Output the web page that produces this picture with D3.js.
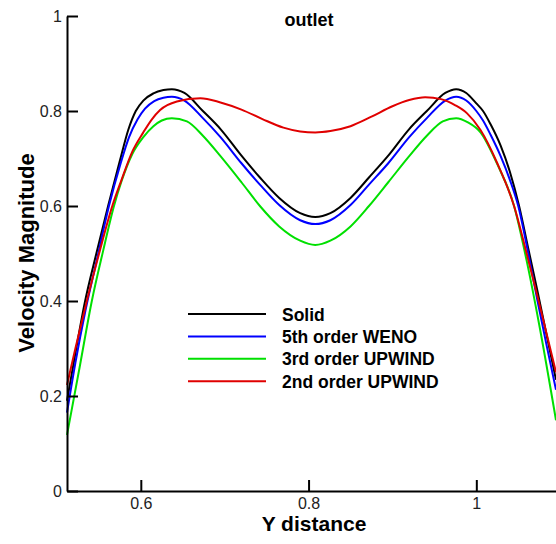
<!DOCTYPE html>
<html>
<head>
<meta charset="utf-8">
<script src="https://cdn.jsdelivr.net/npm/d3@7"></script>
<style>
    body { margin: 0; background: #fff; }
    text { font-family: Arial, "Liberation Sans", sans-serif; }
</style>
</head>
<body>
<div id="chart"></div>
<script>
// values
const solid_x = [0.512, 0.522, 0.533, 0.547, 0.561, 0.575, 0.585, 0.594, 0.603, 0.615, 0.627, 0.637, 0.652, 0.674, 0.695, 0.720, 0.742, 0.765, 0.790, 0.808, 0.826, 0.850, 0.872, 0.895, 0.920, 0.941, 0.963, 0.976, 0.988, 1.000, 1.008, 1.017, 1.029, 1.040, 1.051, 1.062, 1.073, 1.084, 1.095];
const solid_y = [0.19, 0.29, 0.395, 0.50, 0.60, 0.695, 0.76, 0.80, 0.822, 0.837, 0.844, 0.846, 0.838, 0.80, 0.762, 0.706, 0.660, 0.617, 0.585, 0.577, 0.585, 0.617, 0.660, 0.706, 0.762, 0.80, 0.838, 0.846, 0.838, 0.816, 0.80, 0.772, 0.727, 0.672, 0.60, 0.51, 0.42, 0.327, 0.234];

const weno_x = [0.512, 0.522, 0.534, 0.548, 0.562, 0.576, 0.586, 0.596, 0.605, 0.616, 0.627, 0.637, 0.652, 0.674, 0.695, 0.720, 0.742, 0.765, 0.790, 0.808, 0.826, 0.850, 0.872, 0.895, 0.920, 0.941, 0.963, 0.976, 0.988, 1.000, 1.008, 1.017, 1.029, 1.040, 1.050, 1.062, 1.073, 1.084, 1.095];
const weno_y = [0.165, 0.27, 0.38, 0.49, 0.60, 0.69, 0.745, 0.782, 0.805, 0.821, 0.828, 0.830, 0.822, 0.785, 0.745, 0.690, 0.645, 0.602, 0.570, 0.562, 0.570, 0.602, 0.645, 0.690, 0.745, 0.785, 0.822, 0.830, 0.822, 0.80, 0.78, 0.75, 0.705, 0.655, 0.60, 0.50, 0.40, 0.305, 0.213];

const upw3_x = [0.512, 0.527, 0.5416, 0.555, 0.568, 0.577, 0.590, 0.603, 0.615, 0.625, 0.637, 0.655, 0.674, 0.695, 0.720, 0.742, 0.765, 0.790, 0.808, 0.826, 0.850, 0.872, 0.895, 0.920, 0.941, 0.960, 0.976, 0.990, 1.005, 1.025, 1.045, 1.060, 1.075, 1.095];
const upw3_y = [0.118, 0.26, 0.40, 0.505, 0.60, 0.652, 0.71, 0.745, 0.768, 0.780, 0.785, 0.778, 0.748, 0.705, 0.650, 0.600, 0.557, 0.527, 0.518, 0.527, 0.557, 0.600, 0.650, 0.705, 0.748, 0.778, 0.785, 0.776, 0.755, 0.688, 0.60, 0.485, 0.35, 0.149];

const upw2_x = [0.512, 0.522, 0.5356, 0.551, 0.566, 0.577, 0.590, 0.603, 0.613, 0.623, 0.643, 0.671, 0.695, 0.720, 0.745, 0.770, 0.790, 0.808, 0.826, 0.850, 0.875, 0.900, 0.920, 0.939, 0.958, 0.975, 0.989, 1.005, 1.025, 1.045, 1.060, 1.075, 1.095];
const upw2_y = [0.223, 0.30, 0.40, 0.505, 0.60, 0.655, 0.715, 0.755, 0.782, 0.802, 0.820, 0.827, 0.818, 0.803, 0.783, 0.765, 0.757, 0.755, 0.758, 0.768, 0.788, 0.810, 0.823, 0.829, 0.825, 0.812, 0.795, 0.76, 0.69, 0.60, 0.50, 0.395, 0.25];

const series_names = ["Solid", "5th order WENO", "3rd order UPWIND", "2nd order UPWIND"];
const series_colors = ["#000000", "#0000ff", "#00e000", "#e00000"];
const x_ticks = [0.6, 0.8, 1];
const y_ticks = [0, 0.2, 0.4, 0.6, 0.8, 1];
const x_tick_labels = ["0.6", "0.8", "1"];
const y_tick_labels = ["0", "0.2", "0.4", "0.6", "0.8", "1"];

const width = 556, height = 544;

const series = [
    { name: series_names[0], color: series_colors[0], pts: d3.zip(solid_x, solid_y) },
    { name: series_names[1], color: series_colors[1], pts: d3.zip(weno_x, weno_y) },
    { name: series_names[2], color: series_colors[2], pts: d3.zip(upw3_x, upw3_y) },
    { name: series_names[3], color: series_colors[3], pts: d3.zip(upw2_x, upw2_y) }
];

let svg = d3.select("#chart")
    .append("svg")
    .attr("width", width)
    .attr("height", height);

const x = d3.scaleLinear()
    .domain([0.512, 1.095])
    .range([67, 556]);

const y = d3.scaleLinear()
    .domain([0, 1])
    .range([491, 16]);

// curves
let line = d3.line()
    .x(d => x(d[0]))
    .y(d => y(d[1]))
    .curve(d3.curveMonotoneX);

svg.append("g")
    .selectAll("path")
    .data(series)
    .enter().append("path")
    .attr("fill", "none")
    .attr("stroke", d => d.color)
    .attr("stroke-width", 2)
    .attr("d", d => line(d.pts));

// axes, ticks pointing inward
let xAxis = svg.append("g")
    .attr("transform", "translate(0," + y(0) + ")")
    .call(d3.axisBottom(x)
        .tickValues(x_ticks)
        .tickFormat((d, i) => x_tick_labels[i])
        .tickSizeInner(-11)
        .tickSizeOuter(0)
        .tickPadding(7));

let yAxis = svg.append("g")
    .attr("transform", "translate(" + x.range()[0] + ",0)")
    .call(d3.axisLeft(y)
        .tickValues(y_ticks)
        .tickFormat((d, i) => y_tick_labels[i])
        .tickSizeInner(-11)
        .tickSizeOuter(0)
        .tickPadding(5));

[xAxis, yAxis].forEach(function (g) {
    g.select(".domain").attr("stroke", "#000").attr("stroke-width", 2);
    g.selectAll(".tick line").attr("stroke", "#000").attr("stroke-width", 2);
    g.selectAll(".tick text")
        .attr("fill", "#222")
        .style("font-size", "16px")
        .style("font-family", "Arial, 'Liberation Sans', sans-serif");
});

// titles
svg.append("text")
    .attr("x", 309)
    .attr("y", 26)
    .attr("text-anchor", "middle")
    .attr("font-weight", "bold")
    .attr("font-size", 18)
    .text("outlet");

svg.append("text")
    .attr("x", 314)
    .attr("y", 531)
    .attr("text-anchor", "middle")
    .attr("font-weight", "bold")
    .attr("font-size", 21)
    .text("Y distance");

svg.append("text")
    .attr("transform", "translate(34,253) rotate(-90)")
    .attr("text-anchor", "middle")
    .attr("font-weight", "bold")
    .attr("font-size", 22)
    .text("Velocity Magnitude");

// legend
let legend = svg.append("g")
    .selectAll("g")
    .data(series)
    .enter().append("g")
    .attr("transform", (d, i) => "translate(0," + (314 + i * 22.4) + ")");

legend.append("line")
    .attr("x1", 188)
    .attr("x2", 266)
    .attr("stroke", d => d.color)
    .attr("stroke-width", 2);

legend.append("text")
    .attr("x", 282)
    .attr("y", 6.5)
    .attr("font-weight", "bold")
    .attr("font-size", 17.5)
    .text(d => d.name);
</script>
</body>
</html>
